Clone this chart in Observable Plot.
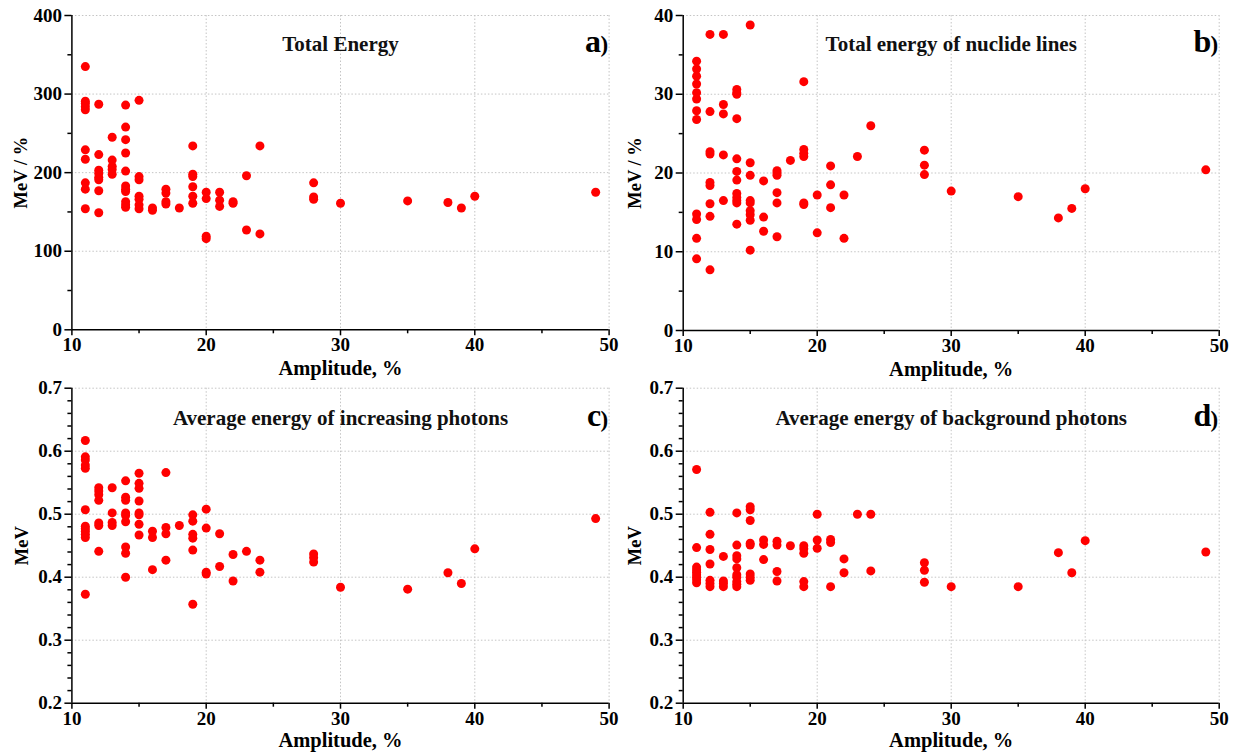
<!DOCTYPE html>
<html><head><meta charset="utf-8">
<script src="https://cdn.jsdelivr.net/npm/d3@7"></script>
<script src="https://cdn.jsdelivr.net/npm/@observablehq/plot@0.6"></script>
<style>
body{margin:0;background:#fff;}
#chart{position:relative;width:1241px;height:756px;overflow:hidden;background:#fff;}
.panel{position:absolute;}
.panel svg{overflow:visible;}
</style></head><body><div id="chart"></div>
<script>
// Amplitude columns (shared by all four panels)
const amplitudes = [11,12,13,14,15,16,17,18,19,20,21,22,23,24,28,30,35,38,39,40,49];

// a) Total Energy, MeV / %
const totalEnergy = [
  [335,291,288,284,280,229,217,187,179,154],
  [287,223,203,199,194,191,177,149],
  [245,216,208,204,198],
  [286,258,242,225,202,183,179,176,163,159,156],
  [292,195,191,170,166,159,154],
  [155,152],
  [179,174,163,160],
  [155],
  [234,198,195,182,170,161],
  [175,167,119,116],
  [175,165,157],
  [163,161],
  [196,127],
  [234,122],
  [187,169,166],
  [161],
  [164],
  [162],
  [155],
  [170],
  [175]
];

// b) Total energy of nuclide lines, MeV / %
const nuclideEnergy = [
  [34.2,33.2,32.3,31.3,30.2,29.4,27.9,26.8,14.8,14.1,11.7,9.1],
  [37.6,27.8,22.7,22.4,18.8,18.4,16.1,14.5,7.7],
  [37.6,28.7,27.5,22.3,16.5],
  [30.6,30.2,30.0,26.9,21.8,20.2,19.1,17.4,16.9,16.5,16.2,13.5],
  [38.8,21.3,19.7,16.5,16.2,15.2,14.7,14.0,10.2],
  [19.0,14.4,12.6],
  [20.3,20.0,19.7,17.5,16.2,11.9],
  [21.6],
  [31.6,23.0,22.5,22.1,16.2,16.0],
  [17.2,12.4],
  [20.9,18.5,15.6],
  [17.2,11.7],
  [22.1],
  [26.0],
  [22.9,21.0,19.8],
  [17.7],
  [17.0],
  [14.3],
  [15.5],
  [18.0],
  [20.4]
];

// c) Average energy of increasing photons, MeV
const increasingPhotons = [
  [0.617,0.591,0.586,0.578,0.573,0.507,0.481,0.477,0.473,0.468,0.463,0.373],
  [0.542,0.537,0.531,0.522,0.486,0.482,0.441],
  [0.542,0.502,0.487,0.482],
  [0.553,0.527,0.522,0.502,0.498,0.488,0.448,0.438,0.400],
  [0.565,0.549,0.541,0.521,0.502,0.499,0.484,0.467],
  [0.473,0.463,0.412],
  [0.566,0.479,0.469,0.427],
  [0.482],
  [0.499,0.489,0.468,0.462,0.443,0.357],
  [0.508,0.478,0.408,0.405],
  [0.469,0.417],
  [0.436,0.394],
  [0.441],
  [0.427,0.408],
  [0.437,0.431,0.424],
  [0.384],
  [0.381],
  [0.407],
  [0.390],
  [0.445],
  [0.493]
];

// d) Average energy of background photons, MeV
const backgroundPhotons = [
  [0.571,0.447,0.416,0.412,0.408,0.404,0.400,0.396,0.391],
  [0.503,0.468,0.444,0.421,0.395,0.390,0.385],
  [0.433,0.394,0.390,0.385],
  [0.502,0.451,0.434,0.429,0.415,0.404,0.400,0.393,0.389,0.385],
  [0.512,0.507,0.490,0.454,0.451,0.405,0.400,0.395],
  [0.459,0.452,0.428],
  [0.457,0.451,0.409,0.394],
  [0.450],
  [0.450,0.445,0.438,0.393,0.385],
  [0.500,0.459,0.446],
  [0.460,0.455,0.385],
  [0.429,0.407],
  [0.500],
  [0.500,0.410],
  [0.423,0.411,0.392],
  [0.385],
  [0.385],
  [0.439],
  [0.407],
  [0.458],
  [0.440]
];

const xTicks = [10,20,30,40,50];
const xMinorTicks = [15,25,35,45];
const yTicksA = [0,100,200,300,400];
const yMinorA = [50,150,250,350];
const yTicksB = [0,10,20,30,40];
const yMinorB = [5,15,25,35];
const yTicksCD = [0.2,0.3,0.4,0.5,0.6,0.7];
const yMinorCD = [0.22,0.24,0.26,0.28,0.32,0.34,0.36,0.38,0.42,0.44,0.46,0.48,0.52,0.54,0.56,0.58,0.62,0.64,0.66,0.68];

const xLabel = "Amplitude, %";
const FONT = "'Liberation Serif','Times New Roman',Times,serif";

function panel(cfg) {
  const data = amplitudes.flatMap((a, i) => cfg.values[i].map(v => ({amplitude: a, value: v})));
  const grid = {stroke: "#c4c4c4", strokeOpacity: 1, strokeDasharray: "1.5,2", strokeWidth: 1};
  const tick = {stroke: "#000", strokeWidth: 1.5, strokeOpacity: 1};
  const txt = {text: d => d, lineAnchor: "middle", fill: "#000"};
  const chart = Plot.plot({
    width: cfg.width, height: cfg.height,
    marginLeft: cfg.ml, marginRight: cfg.mr, marginTop: cfg.mt, marginBottom: cfg.mb,
    x: {domain: [10, 50]},
    y: {domain: cfg.yDomain},
    style: {fontFamily: FONT, fontSize: "19px", fontWeight: "bold", color: "#000", background: "transparent", overflow: "visible"},
    marks: [
      Plot.gridX(xTicks.slice(1), grid),
      Plot.gridY(cfg.yTicks.slice(1), grid),
      Plot.axisX(xTicks, {...tick, tickSize: 6, tickPadding: 2, tickFormat: d => String(d), label: null, fontSize: 19, fill: "#000"}),
      Plot.axisX(xMinorTicks, {...tick, tickSize: 4, tickFormat: () => "", label: null}),
      Plot.axisY(cfg.yTicks, {...tick, tickSize: 7, tickPadding: 3, tickFormat: cfg.yFormat, label: null, fontSize: 19, fill: "#000"}),
      Plot.axisY(cfg.yMinor, {...tick, tickSize: 4, tickFormat: () => "", label: null}),
      Plot.ruleX([10], {stroke: "#000", strokeWidth: 1.5}),
      Plot.ruleY([cfg.yDomain[0]], {stroke: "#000", strokeWidth: 1.5}),
      Plot.dot(data, {x: "amplitude", y: "value", r: 4.5, fill: "#ff0000", stroke: "none"}),
      Plot.text([cfg.title], {...txt, frameAnchor: "top", textAnchor: "middle", dy: cfg.titleDy, fontSize: 21, fill: "#111"}),
      Plot.text([cfg.letter], {...txt, frameAnchor: "top-right", textAnchor: "end", dx: -8, dy: cfg.letterDy, fontSize: 32}),
      Plot.text([")"], {...txt, frameAnchor: "top-right", textAnchor: "end", dx: -1, dy: cfg.letterDy + 3, fontSize: 23}),
      Plot.text([xLabel], {...txt, frameAnchor: "bottom", textAnchor: "middle", dy: cfg.xLabelDy, fontSize: 20.5}),
      Plot.text([cfg.yLabel], {...txt, frameAnchor: "left", textAnchor: "middle", rotate: -90, dx: cfg.yLabelDx, fontSize: 18.5})
    ]
  });
  const div = document.createElement("div");
  div.className = "panel";
  div.style.left = cfg.left + "px";
  div.style.top = cfg.top + "px";
  div.appendChild(chart);
  document.getElementById("chart").appendChild(div);
}

const f1 = d3.format(".1f");

panel({values: totalEnergy, yDomain: [0, 400], yTicks: yTicksA, yMinor: yMinorA, yFormat: d => String(d),
  yLabel: "MeV / %", title: "Total Energy", letter: "a",
  left: 0, top: 0, width: 620, height: 378, ml: 71.4, mr: 11.4, mt: 15, mb: 48.7,
  titleDy: 29, letterDy: 26, xLabelDy: 38.5, yLabelDx: -51});

panel({values: nuclideEnergy, yDomain: [0, 40], yTicks: yTicksB, yMinor: yMinorB, yFormat: d => String(d),
  yLabel: "MeV / %", title: "Total energy of nuclide lines", letter: "b",
  left: 620, top: 0, width: 621, height: 378, ml: 62.7, mr: 22.3, mt: 15, mb: 48,
  titleDy: 29, letterDy: 26, xLabelDy: 38.5, yLabelDx: -48});

panel({values: increasingPhotons, yDomain: [0.2, 0.7], yTicks: yTicksCD, yMinor: yMinorCD, yFormat: f1,
  yLabel: "MeV", title: "Average energy of increasing photons", letter: "c",
  left: 0, top: 378, width: 620, height: 378, ml: 71.4, mr: 11.4, mt: 9.7, mb: 53.3,
  titleDy: 30, letterDy: 28, xLabelDy: 37.5, yLabelDx: -50});

panel({values: backgroundPhotons, yDomain: [0.2, 0.7], yTicks: yTicksCD, yMinor: yMinorCD, yFormat: f1,
  yLabel: "MeV", title: "Average energy of background photons", letter: "d",
  left: 620, top: 378, width: 621, height: 378, ml: 62.7, mr: 22.3, mt: 9.7, mb: 53.3,
  titleDy: 30, letterDy: 28, xLabelDy: 37.5, yLabelDx: -48});
</script>
</body></html>
